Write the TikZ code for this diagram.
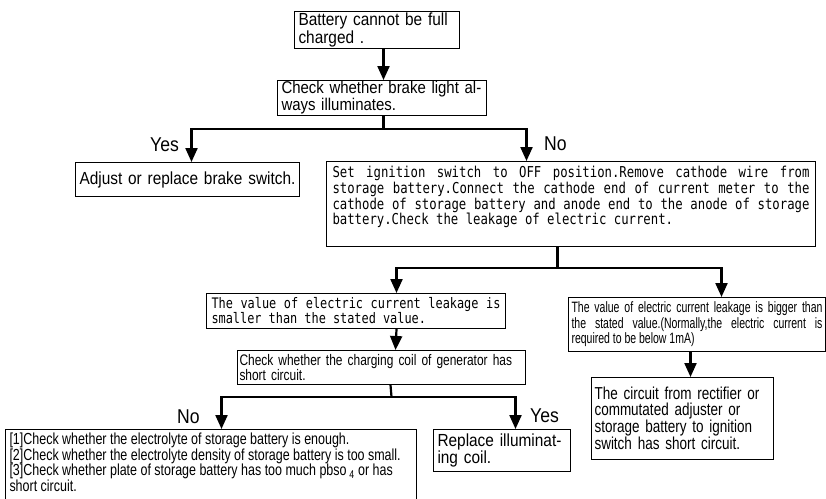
\documentclass[tikz,border=0pt]{standalone}
\usepackage{fontspec}
\newfontfamily\condfont[FakeStretch=0.88]{Liberation Sans}
\newfontfamily\narrowfont[FakeStretch=0.78]{Liberation Sans}
\newfontfamily\slimfont[FakeStretch=0.7]{Liberation Sans}
\newfontfamily\typefont[FakeStretch=0.82]{DejaVu Sans Mono}
\usetikzlibrary{arrows.meta}

\begin{document}
\begin{tikzpicture}[x=1pt, y=-1pt,
    box/.style={draw, line width=1pt, anchor=north west, inner ysep=1pt},
    conn/.style={line width=2.2pt},
    arr/.style={conn, -{Triangle[length=14pt, width=12pt]}},
    tag/.style={font={\condfont\fontsize{20}{20}\selectfont}, inner sep=0pt, anchor=base west}]
  \useasboundingbox (0,0) rectangle (826,498);

  % top of the chart
  \node[box, text width=157pt, inner xsep=4pt, minimum height=37pt, align=left,
        font={\condfont\fontsize{17.5}{14}\selectfont}] (fault) at (294,11) {Battery cannot be full\\charged .};
  \node[box, text width=201pt, inner xsep=4pt, minimum height=35pt, align=left,
        font={\condfont\fontsize{17}{14}\selectfont}] (brake) at (277,80) {Check whether brake light al-\\ways illuminates.};
  \node[box, text width=216pt, inner xsep=4pt, minimum height=34pt, align=left,
        font={\condfont\fontsize{17.5}{14}\selectfont}] (adjust) at (75,162) {Adjust or replace brake switch.};
  \node[box, inner xsep=6pt, inner ysep=5pt] (ignition) at (326,161) {\parbox[t][75pt][t]{477pt}{\typefont\fontsize{15}{12}\selectfont
      \spaceskip=7.4pt plus 10pt minus 2pt\xspaceskip=\spaceskip
      Set ignition switch to OFF position.Remove cathode wire from\linebreak
      storage battery.Connect the cathode end of current meter to the\linebreak
      cathode of storage battery and anode end to the anode of storage\linebreak
      battery.Check the leakage of electric current.}};

  % leakage check
  \node[box, text width=289pt, inner xsep=5pt, minimum height=35pt, align=justify,
        font={\typefont\fontsize{14.5}{15}\selectfont\spaceskip=7.1pt plus 8pt minus 2pt\xspaceskip=\spaceskip}]
        (smaller) at (206,293) {The value of electric current leakage is\linebreak smaller than the stated value.};
  \node[box, text width=251pt, inner xsep=3pt, minimum height=54pt, align=justify,
        font={\slimfont\fontsize{15}{15.5}\selectfont\spaceskip=2.9pt plus 6pt minus 1pt}]
        (bigger) at (568,297) {The value of electric current leakage is bigger than\linebreak the stated value.(Normally,the electric current is\linebreak required to be below 1mA)};
  \node[box, text width=284pt, inner xsep=2pt, minimum height=34pt, align=left,
        font={\narrowfont\fontsize{15.3}{14}\selectfont}] (charge) at (237,350) {Check whether the charging coil of generator has\\short circuit.};
  \node[box, text width=176pt, inner xsep=3pt, minimum height=82pt, align=left,
        font={\narrowfont\fontsize{17.3}{16}\selectfont}] (circuit) at (591,377) {The circuit from rectifier or\\commutated adjuster or\\storage battery to ignition\\switch has short circuit.};

  % last row
  \node[box, text width=129pt, inner xsep=4pt, minimum height=42pt, align=left,
        font={\condfont\fontsize{17.5}{15}\selectfont}] (replace) at (433,429) {Replace illuminat-\\ing coil.};
  \node[box, inner xsep=4pt, inner ysep=3pt] (checks) at (5,429) {\parbox[t][70pt][t]{403pt}{\narrowfont\fontsize{16}{13}\selectfont\raggedright
      [1]Check whether the electrolyte of storage battery is enough.\\{}%
      [2]Check whether the electrolyte density of storage battery is too small.\\{}%
      [3]Check whether plate of storage battery has too much pbso\,\textsubscript{4} or has\\{}%
      short circuit.}};

  % labels
  \node[tag] (yes1) at (150,151) {Yes};
  \node[tag] (no1) at (544,150) {No};
  \node[tag] (no2) at (177,423) {No};
  \node[tag] (yes2) at (530,422) {Yes};

  % connectors
  \coordinate (fork1) at ([xshift=1.5pt, yshift=-13pt]brake.south);
  \coordinate (fork2) at ([xshift=-13.5pt, yshift=-21pt]ignition.south);
  \coordinate (fork3) at ([xshift=10pt, yshift=-12pt]charge.south);

  \draw[arr] ([xshift=6.5pt]fault.south) -- ([xshift=1.5pt]brake.north);
  \draw[conn] ([xshift=1.5pt]brake.south) -- (fork1);
  \draw[arr] (fork1) -| ([xshift=4pt]adjust.north);
  \draw[arr] (fork1) -| ([xshift=-44.5pt]ignition.north);

  \draw[conn] ([xshift=-13.5pt]ignition.south) -- (fork2);
  \draw[arr] (fork2) -| ([xshift=40.5pt]smaller.north);
  \draw[arr] (fork2) -| ([xshift=24.5pt]bigger.north);
  \draw[arr] ([xshift=40.5pt]smaller.south) -- ([xshift=14pt]charge.north);
  \draw[arr] ([xshift=-6.5pt]bigger.south) -- ([xshift=8pt]circuit.north);

  \draw[conn] ([xshift=9pt]charge.south) -- (fork3);
  \draw[arr] (fork3) -| ([xshift=10.5pt]checks.north);
  \draw[arr] (fork3) -| ([xshift=13.5pt]replace.north);
\end{tikzpicture}
\end{document}
